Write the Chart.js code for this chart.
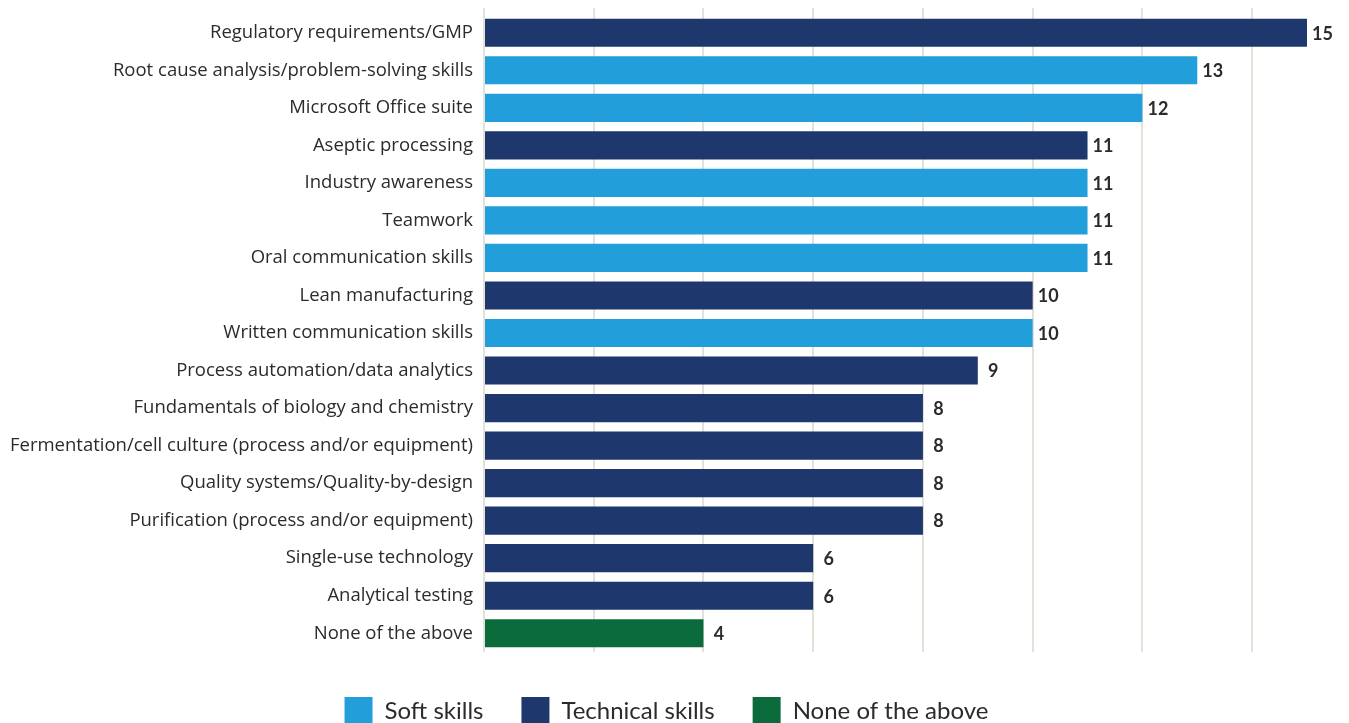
<!DOCTYPE html>
<html>
<head>
<meta charset="utf-8">
<script src="https://cdn.jsdelivr.net/npm/chart.js@4/dist/chart.umd.min.js"></script>
<style>
  html, body { margin: 0; padding: 0; background: #fff; overflow: hidden; }
  #wrap { position: relative; width: 1349px; height: 735px; }
</style>
</head>
<body>
<div id="wrap"><canvas id="skillsChart"></canvas></div>
<script>
const skills = [
  "Regulatory requirements/GMP",
  "Root cause analysis/problem-solving skills",
  "Microsoft Office suite",
  "Aseptic processing",
  "Industry awareness",
  "Teamwork",
  "Oral communication skills",
  "Lean manufacturing",
  "Written communication skills",
  "Process automation/data analytics",
  "Fundamentals of biology and chemistry",
  "Fermentation/cell culture (process and/or equipment)",
  "Quality systems/Quality-by-design",
  "Purification (process and/or equipment)",
  "Single-use technology",
  "Analytical testing",
  "None of the above"
];
const counts = [15, 13, 12, 11, 11, 11, 11, 10, 10, 9, 8, 8, 8, 8, 6, 6, 4];
// S = soft, T = technical, N = none
const kinds = ["T", "S", "S", "T", "S", "S", "S", "T", "S", "T", "T", "T", "T", "T", "T", "T", "N"];

const groups = [
  { key: "S", label: "Soft skills", color: "#229fda" },
  { key: "T", label: "Technical skills", color: "#1e376c" },
  { key: "N", label: "None of the above", color: "#0b6b3a" }
];

const xMax = 15;

const datasets = groups.map(g => ({
  label: g.label,
  data: counts.map((v, i) => kinds[i] === g.key ? v : null),
  backgroundColor: g.color,
  borderWidth: 0,
  barPercentage: 0.75,
  categoryPercentage: 1
}));

// numbers at the end of each bar
const barValues = {
  id: "barValues",
  afterDatasetsDraw(chart) {
    const ctx = chart.ctx;
    ctx.save();
    ctx.font = "bold 18px Lato";
    ctx.fillStyle = "#2b2b2b";
    ctx.textBaseline = "middle";
    ctx.textAlign = "center";
    chart.data.datasets.forEach((ds, di) => {
      chart.getDatasetMeta(di).data.forEach((bar, i) => {
        if (ds.data[i] == null) return;
        ctx.fillText(ds.data[i], bar.x + 15.5, bar.y + 1);
      });
    });
    ctx.restore();
  }
};

new Chart(document.getElementById("skillsChart"), {
  type: "bar",
  data: { labels: skills, datasets: datasets },
  plugins: [barValues],
  options: {
    indexAxis: "y",
    responsive: true,
    maintainAspectRatio: false,
    animation: false,
    layout: { padding: { left: 0, right: 16, top: 8, bottom: 0 } },
    scales: {
      x: {
        position: "top",
        stacked: true,
        min: 0,
        max: xMax,
        ticks: { display: false, stepSize: 2 },
        grid: {
          // no line at the end of the axis, only every 2
          color: c => (c.tick && c.tick.value === xMax) ? "rgba(0,0,0,0)" : "#e3e2d8",
          lineWidth: 2,
          drawTicks: true,
          tickLength: 6
        },
        border: { display: false },
        afterFit(scale) { scale.height = 6; }
      },
      // empty strip under the bars, keeps the legend clear of them
      xGap: {
        position: "bottom",
        type: "linear",
        min: 0,
        max: xMax,
        grid: { display: false, drawTicks: false },
        ticks: { display: false },
        border: { display: false },
        afterFit(scale) { scale.height = 7; }
      },
      y: {
        stacked: true,
        grid: { display: false, drawTicks: false },
        border: { display: false },
        ticks: {
          color: "#2b2b2b",
          padding: 11,
          font: { family: "Open Sans", size: 18.5 }
        },
        afterFit(scale) {
          scale.width = 484;
          scale.paddingTop = 0;
          scale.paddingBottom = 0;
        }
      },
      // room on the right for the value numbers
      yRoom: {
        position: "right",
        type: "category",
        grid: { display: false, drawTicks: false },
        ticks: { display: false },
        border: { display: false },
        afterFit(scale) { scale.width = 26; }
      }
    },
    plugins: {
      tooltip: { enabled: false },
      legend: {
        position: "bottom",
        labels: {
          color: "#2b2b2b",
          boxWidth: 28,
          boxHeight: 28,
          padding: 38,
          font: { family: "Lato", size: 24 }
        }
      }
    }
  }
});
</script>
</body>
</html>
